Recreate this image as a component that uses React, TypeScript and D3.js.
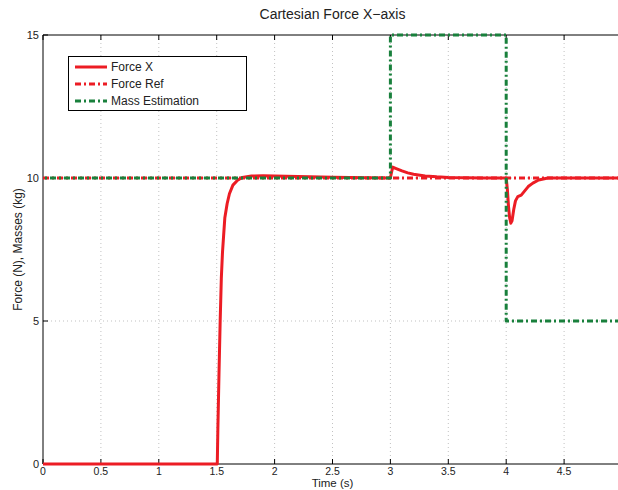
import React from "react";
import * as d3 from "d3";

// Time samples (s) and measured Cartesian force along X (N)
const forceT = [0, 1.5, 1.505, 1.51, 1.52, 1.53, 1.54, 1.55, 1.56, 1.57, 1.59, 1.61, 1.64, 1.68, 1.72, 1.8, 1.9, 2.0, 2.2, 2.5, 2.8, 3.0, 3.01, 3.02, 3.05, 3.1, 3.15, 3.2, 3.3, 3.4, 3.5, 3.8, 4.0, 4.01, 4.02, 4.03, 4.04, 4.05, 4.065, 4.08, 4.1, 4.13, 4.16, 4.19, 4.23, 4.28, 4.36, 4.5, 5.0];
const forceX = [0, 0, 0, 1.2, 3.2, 5.0, 6.5, 7.4, 8.0, 8.6, 9.1, 9.45, 9.75, 9.92, 10.02, 10.07, 10.08, 10.07, 10.05, 10.03, 10.01, 10.0, 10.2, 10.38, 10.33, 10.25, 10.18, 10.13, 10.07, 10.04, 10.02, 10.0, 10.0, 9.6, 9.0, 8.6, 8.42, 8.5, 8.9, 9.2, 9.35, 9.4, 9.55, 9.7, 9.82, 9.93, 10.0, 10.0, 10.0];

// Reference force (N)
const refT = [0, 5];
const forceRef = [10, 10];

// Estimated mass (kg), piecewise constant
const massT = [0, 3.0, 3.0, 4.0, 4.0, 5.0];
const massEst = [10, 10, 15, 15, 5, 5];

const xTicks = [0, 0.5, 1, 1.5, 2, 2.5, 3, 3.5, 4, 4.5];
const yTicks = [0, 5, 10, 15];

const legendNames = ["Force X", "Force Ref", "Mass Estimation"];

const RED = "#ec1c24";
const GREEN = "#19803c";
const FONT = "'Liberation Sans', Arial, Helvetica, sans-serif";

export default function App() {
  const W = 618;
  const H = 490;
  const left = 43;
  const top = 35;
  const bottom = 464;
  const right = 622;

  const x = d3.scaleLinear().domain([0, 5]).range([left, right]);
  const y = d3.scaleLinear().domain([0, 15]).range([bottom, top]);

  const line = (ts: number[], vs: number[]) =>
    d3
      .line<number>()
      .x((_, i) => x(ts[i]))
      .y((v) => y(v))(vs) as string;

  const styles = [
    { stroke: RED, dash: undefined as string | undefined, offset: 0 },
    { stroke: RED, dash: "6,3,2,3", offset: 0 },
    { stroke: GREEN, dash: "6,3,2,3", offset: 7 },
  ];

  return (
    <svg
      width={W}
      height={H}
      style={{ position: "absolute", left: 0, top: 0, background: "#fff" }}
      fontFamily={FONT}
    >
      <rect x={0} y={0} width={W} height={H} fill="#fff" />
      <defs>
        <clipPath id="plotClip">
          <rect x={left} y={top - 2} width={right - left} height={bottom - top + 4} />
        </clipPath>
      </defs>

      {/* grid */}
      {xTicks.slice(1).map((t) => (
        <line key={"gx" + t} x1={x(t)} x2={x(t)} y1={top} y2={bottom} stroke="#a8a8a8" strokeWidth={0.7} strokeDasharray="1,3" />
      ))}
      {yTicks.slice(1, 3).map((t) => (
        <line key={"gy" + t} x1={left} x2={right} y1={y(t)} y2={y(t)} stroke="#a8a8a8" strokeWidth={0.7} strokeDasharray="1,3" />
      ))}

      {/* axes box */}
      <line x1={left} x2={W} y1={top} y2={top} stroke="#000" strokeWidth={1} />
      <line x1={left} x2={W} y1={bottom} y2={bottom} stroke="#000" strokeWidth={1} />
      <line x1={left} x2={left} y1={top} y2={bottom} stroke="#000" strokeWidth={1} />

      {/* ticks */}
      {xTicks.map((t) => (
        <g key={"tx" + t}>
          <line x1={x(t)} x2={x(t)} y1={bottom} y2={bottom - 5} stroke="#000" />
          <line x1={x(t)} x2={x(t)} y1={top} y2={top + 5} stroke="#000" />
          <text x={x(t)} y={bottom + 11} fontSize={10.5} textAnchor="middle" fill="#222">
            {t}
          </text>
        </g>
      ))}
      {yTicks.map((t) => (
        <g key={"ty" + t}>
          <line x1={left} x2={left + 5} y1={y(t)} y2={y(t)} stroke="#000" />
          <text x={left - 4} y={y(t) + 4} fontSize={11} textAnchor="end" fill="#222">
            {t}
          </text>
        </g>
      ))}

      {/* series */}
      <g clipPath="url(#plotClip)" fill="none" strokeLinejoin="round">
        <path d={line(forceT, forceX)} stroke={styles[0].stroke} strokeWidth={3} />
        <path d={line(refT, forceRef)} stroke={styles[1].stroke} strokeWidth={3} strokeDasharray={styles[1].dash} />
        <path d={line(massT, massEst)} stroke={styles[2].stroke} strokeWidth={3} strokeDasharray={styles[2].dash} strokeDashoffset={styles[2].offset} />
      </g>

      {/* labels */}
      <text x={(left + right) / 2} y={19} fontSize={14} textAnchor="middle" fill="#222">
        Cartesian Force X−axis
      </text>
      <text x={(left + right) / 2} y={487} fontSize={11.5} textAnchor="middle" fill="#222">
        Time (s)
      </text>
      <text
        transform={`translate(22,${(top + bottom) / 2}) rotate(-90)`}
        fontSize={12}
        textAnchor="middle"
        fill="#222"
      >
        Force (N), Masses (kg)
      </text>

      {/* legend */}
      <rect x={68.5} y={56.5} width={178} height={54} fill="#fff" stroke="#000" strokeWidth={1} />
      {legendNames.map((name, i) => {
        const ly = 67 + i * 17;
        return (
          <g key={name}>
            <line x1={75} x2={107} y1={ly} y2={ly} stroke={styles[i].stroke} strokeWidth={3} strokeDasharray={styles[i].dash} />
            <text x={111} y={ly + 4} fontSize={12} fill="#222">
              {name}
            </text>
          </g>
        );
      })}
    </svg>
  );
}
